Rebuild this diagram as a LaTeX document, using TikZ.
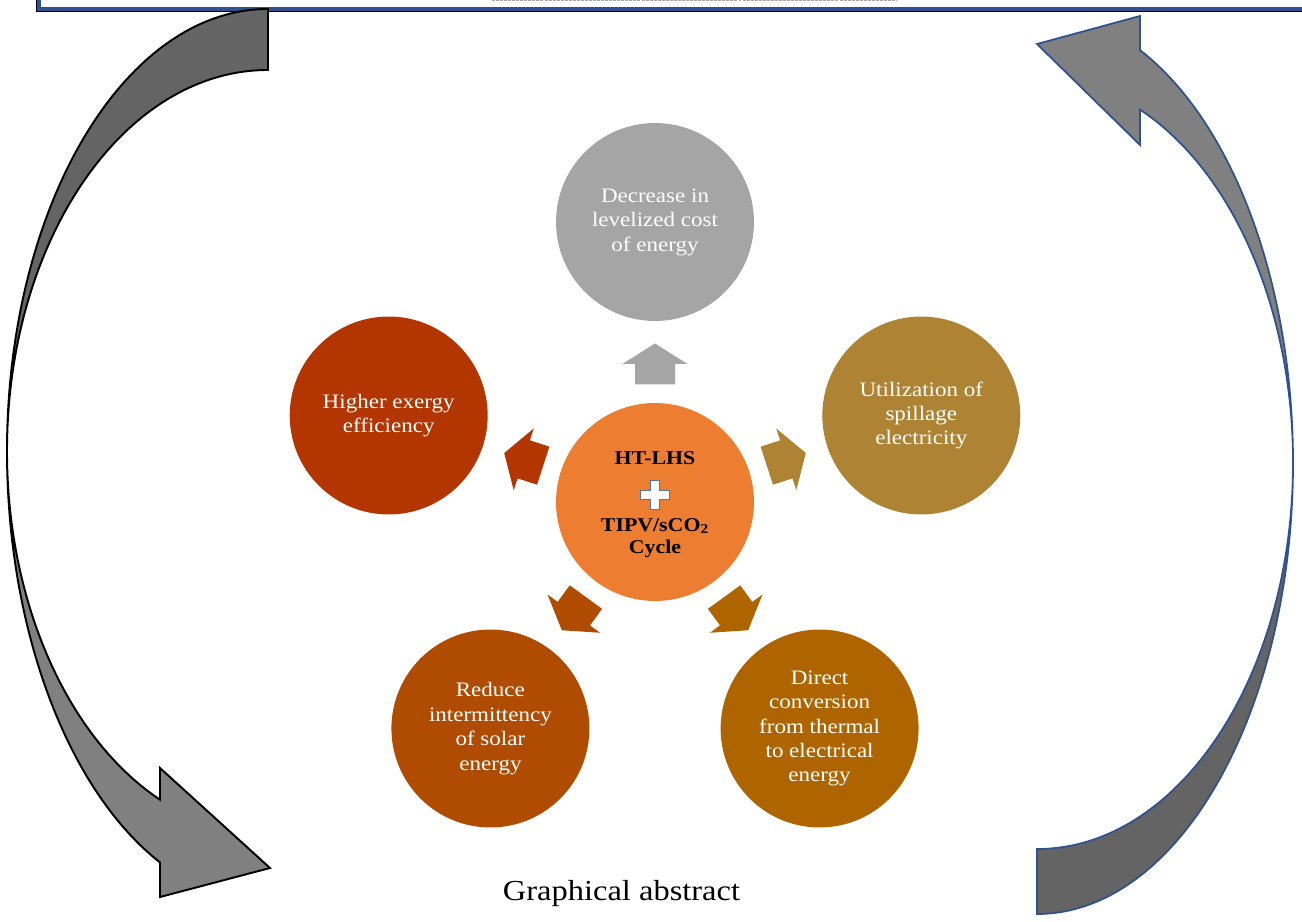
\documentclass[tikz,border=0pt]{standalone}
\usepackage{fontspec}
\setmainfont{Liberation Serif}[FakeStretch=1.12]
\usetikzlibrary{calc}

\definecolor{HubOrange}{RGB}{237,125,49}
\definecolor{CostGrey}{RGB}{165,165,165}
\definecolor{SpillGold}{RGB}{174,132,52}
\definecolor{ConvBrown}{RGB}{174,101,0}
\definecolor{SolarRust}{RGB}{176,75,2}
\definecolor{ExergyRed}{RGB}{179,53,0}
\definecolor{FrameBlue}{RGB}{47,82,143}
\definecolor{CycleDark}{RGB}{100,100,100}
\definecolor{CycleLight}{RGB}{128,128,128}

\tikzset{
  bubble/.style={circle, minimum size=3.96cm, inner sep=0pt, text=white, align=center, font=\fontsize{11.7}{13.9}\selectfont},
  hubtext/.style={inner sep=0pt, font=\bfseries\fontsize{11.1}{13}\selectfont},
  blockarrow/.pic={\path[pic actions] (-20.5,-20) -- (0,-20) -- (0,-32.5) -- (20.5,0) -- (0,32.5) -- (0,20) -- (-20.5,20) -- cycle;}
}

\begin{document}
\begin{tikzpicture}[x=0.02cm, y=0.02cm]
\useasboundingbox (0,0) rectangle (1302,921);
\clip (0,0) rectangle (1302,921);

% edge of the box above
\draw[gray!70, line width=0.6pt, dash pattern=on 1.7pt off 0.6pt] (492,920.5) -- (897,920.5);
\draw[black, line width=1.1pt] (36.6,940) |- (1320,909.6);
\draw[FrameBlue, line width=2.2pt] (38.8,940) |- (1320,912);

% left cycle arrow
\filldraw[CycleDark, draw=black, line width=1.1pt] (268,912) arc[start angle=90, end angle=180, x radius=261, y radius=442]
    arc[start angle=180, end angle=90, x radius=261, y radius=381] -- cycle;
\filldraw[CycleLight, draw=black, line width=1.1pt] (7,470) arc[start angle=180, end angle=245.56, x radius=261, y radius=452]
    -- (160,24) -- (270,53) -- (160,153) -- (160,121.3)
    arc[start angle=245.56, end angle=180, x radius=261, y radius=383] -- cycle;

% right cycle arrow
\filldraw[CycleDark, draw=FrameBlue, line width=1pt] (1037,7) arc[start angle=270, end angle=360, x radius=256, y radius=451]
    arc[start angle=0, end angle=-90, x radius=256, y radius=386] -- cycle;
\filldraw[CycleLight, draw=FrameBlue, line width=1pt] (1293,458) arc[start angle=0, end angle=66.28, x radius=256, y radius=451]
    -- (1140,905) -- (1037,877) -- (1140,776) -- (1140,811.4)
    arc[start angle=66.28, end angle=0, x radius=256, y radius=386] -- cycle;

% circles
\node[circle, fill=HubOrange, minimum size=3.96cm] (hub) at (655,419) {};
\node[bubble, fill=CostGrey] (cost) at (655,699) {Decrease in\\levelized cost\\of energy};
\node[bubble, fill=SpillGold] (spill) at (921.3,505.5) {Utilization of\\spillage\\electricity};
\node[bubble, fill=ConvBrown] (conv) at (819.6,192.5) {Direct\\conversion\\from thermal\\to electrical\\energy};
\node[bubble, fill=SolarRust] (solar) at (490.4,192.5) {Reduce\\intermittency\\of solar\\energy};
\node[bubble, fill=ExergyRed] (exergy) at (388.7,505.5) {Higher exergy\\efficiency};

% arrows out of the hub
\pic[fill=CostGrey, rotate=90] at ($(hub)!0.493!(cost)$) {blockarrow};
\pic[fill=SpillGold, rotate=18] at ($(hub)!0.493!(spill)$) {blockarrow};
\pic[fill=ConvBrown, rotate=-54] at ($(hub)!0.493!(conv)$) {blockarrow};
\pic[fill=SolarRust, rotate=-126] at ($(hub)!0.493!(solar)$) {blockarrow};
\pic[fill=ExergyRed, rotate=162] at ($(hub)!0.493!(exergy)$) {blockarrow};

% hub text
\node[hubtext, anchor=base] (lhs) at (655,457) {HT-LHS};
\filldraw[fill=white, draw=FrameBlue!80, line width=0.6pt] (650.5,440.5) -- ++(9,0) -- ++(0,-10) -- ++(10,0) -- ++(0,-9) -- ++(-10,0)
    -- ++(0,-10) -- ++(-9,0) -- ++(0,10) -- ++(-10,0) -- ++(0,9) -- ++(10,0) -- cycle;
\node[hubtext, anchor=base] (tipv) at (655,390) {TIPV/sCO\textsubscript{2}};
\node[hubtext, anchor=base] (cycle) at (655,368) {Cycle};

\node[font=\fontsize{16.5}{20}\selectfont, anchor=base] (caption) at (621.5,20.3) {Graphical abstract};
\end{tikzpicture}
\end{document}
